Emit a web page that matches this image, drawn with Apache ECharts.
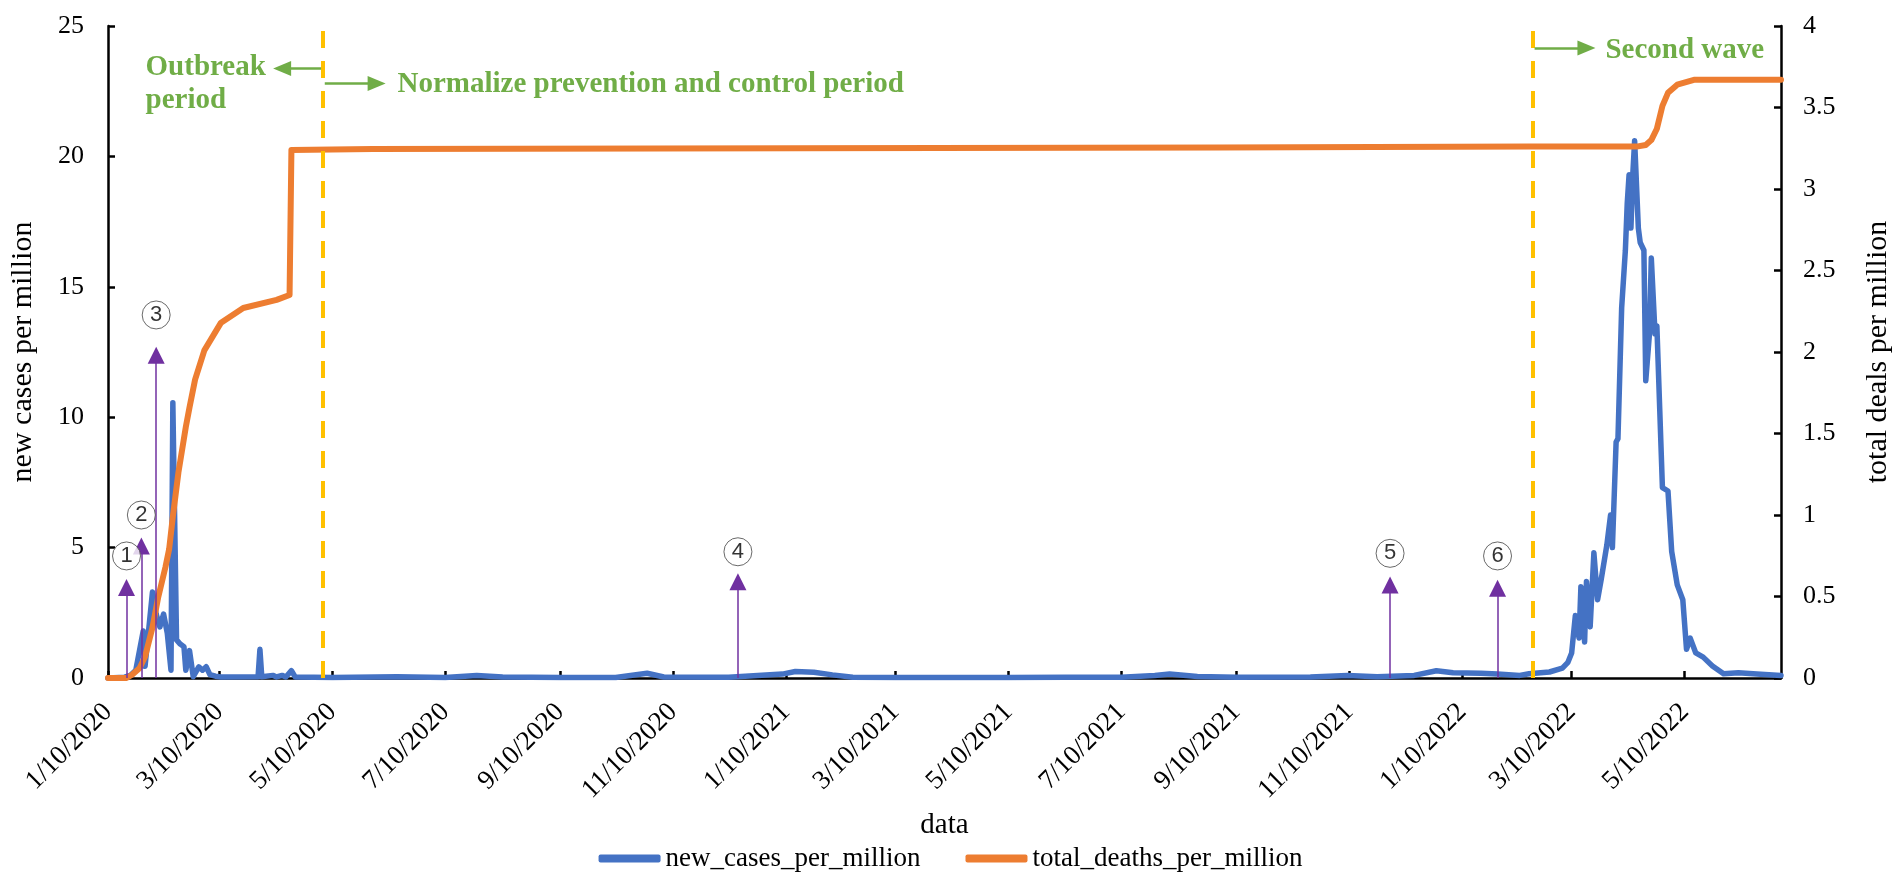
<!DOCTYPE html>
<html>
<head>
<meta charset="utf-8">
<script src="https://cdn.jsdelivr.net/npm/echarts@6/dist/echarts.min.js"></script>
<style>
  html, body { margin: 0; padding: 0; background: #fff; }
  #main { width: 1901px; height: 878px; }
</style>
</head>
<body>
<div id="main"></div>
<script>
// x axis range and the tick dates (every 2 months from 1/10/2020)
const xStart = '2020-01-10'
const xEnd = '2022-07-01'
const xTicks = ['2020-01-10', '2020-03-10', '2020-05-10', '2020-07-10', '2020-09-10', '2020-11-10',
  '2021-01-10', '2021-03-10', '2021-05-10', '2021-07-10', '2021-09-10', '2021-11-10',
  '2022-01-10', '2022-03-10', '2022-05-10']

// new cases per million (left axis)
const newCases = [
  ['2020-01-10', 0], ['2020-01-19', 0.03], ['2020-01-22', 0.1], ['2020-01-25', 0.3],
  ['2020-01-29', 1.8], ['2020-01-30', 0.45], ['2020-02-03', 3.3], ['2020-02-05', 2.45],
  ['2020-02-07', 1.96], ['2020-02-09', 2.45], ['2020-02-11', 1.72], ['2020-02-13', 0.3],
  ['2020-02-14', 10.55], ['2020-02-16', 1.46], ['2020-02-18', 1.3], ['2020-02-20', 1.2],
  ['2020-02-21', 0.3], ['2020-02-23', 1.05], ['2020-02-25', 0.05], ['2020-02-28', 0.43],
  ['2020-03-01', 0.3], ['2020-03-03', 0.43], ['2020-03-05', 0.13], ['2020-03-08', 0.07],
  ['2020-03-11', 0.04], ['2020-03-31', 0.05], ['2020-04-01', 1.1], ['2020-04-02', 0.05],
  ['2020-04-08', 0.1], ['2020-04-10', 0.04], ['2020-04-13', 0.1], ['2020-04-15', 0.04],
  ['2020-04-18', 0.28], ['2020-04-20', 0.04], ['2020-05-10', 0.02], ['2020-06-14', 0.05],
  ['2020-07-10', 0.02], ['2020-07-27', 0.1], ['2020-08-10', 0.04], ['2020-09-10', 0.02],
  ['2020-10-10', 0.02], ['2020-10-27', 0.18], ['2020-11-05', 0.04], ['2020-12-10', 0.03],
  ['2021-01-08', 0.15], ['2021-01-15', 0.25], ['2021-01-25', 0.22], ['2021-02-04', 0.12],
  ['2021-02-15', 0.03], ['2021-03-10', 0.02], ['2021-05-10', 0.02], ['2021-06-10', 0.03],
  ['2021-07-10', 0.03], ['2021-07-28', 0.1], ['2021-08-05', 0.15], ['2021-08-20', 0.06],
  ['2021-09-10', 0.03], ['2021-10-20', 0.04], ['2021-11-09', 0.1], ['2021-11-25', 0.05],
  ['2021-12-15', 0.1], ['2021-12-27', 0.28], ['2022-01-05', 0.2], ['2022-01-20', 0.18],
  ['2022-01-29', 0.15], ['2022-02-10', 0.1], ['2022-02-15', 0.16], ['2022-02-26', 0.23],
  ['2022-03-05', 0.38], ['2022-03-08', 0.6], ['2022-03-10', 0.96], ['2022-03-12', 2.4],
  ['2022-03-14', 1.53], ['2022-03-15', 3.5], ['2022-03-17', 1.38], ['2022-03-18', 3.7],
  ['2022-03-20', 1.96], ['2022-03-22', 4.8], ['2022-03-24', 3.0], ['2022-03-26', 3.8],
  ['2022-03-29', 5.1], ['2022-03-31', 6.25], ['2022-04-01', 5.0], ['2022-04-03', 9.05],
  ['2022-04-04', 9.18], ['2022-04-06', 14.2], ['2022-04-08', 16.4], ['2022-04-09', 18.2],
  ['2022-04-10', 19.3], ['2022-04-11', 17.25], ['2022-04-12', 19.3], ['2022-04-13', 20.6],
  ['2022-04-15', 17.25], ['2022-04-16', 16.7], ['2022-04-18', 16.4], ['2022-04-19', 11.4],
  ['2022-04-21', 13.2], ['2022-04-22', 16.1], ['2022-04-24', 13.2], ['2022-04-25', 13.5],
  ['2022-04-28', 7.3], ['2022-05-01', 7.17], ['2022-05-03', 4.85], ['2022-05-06', 3.57],
  ['2022-05-09', 3.0], ['2022-05-11', 1.1], ['2022-05-13', 1.53], ['2022-05-16', 0.96],
  ['2022-05-20', 0.8], ['2022-05-25', 0.46], ['2022-05-31', 0.16], ['2022-06-08', 0.2],
  ['2022-06-18', 0.15], ['2022-07-01', 0.1]
]

// total deaths per million (right axis)
const totalDeaths = [
  ['2020-01-10', 0], ['2020-01-20', 0], ['2020-01-23', 0.02], ['2020-01-27', 0.06],
  ['2020-01-30', 0.13], ['2020-02-03', 0.31], ['2020-02-06', 0.49], ['2020-02-10', 0.68],
  ['2020-02-12', 0.79], ['2020-02-14', 0.99], ['2020-02-17', 1.26], ['2020-02-21', 1.54],
  ['2020-02-23', 1.66], ['2020-02-26', 1.83], ['2020-03-02', 2.01], ['2020-03-11', 2.18],
  ['2020-03-23', 2.27], ['2020-04-10', 2.32], ['2020-04-17', 2.35], ['2020-04-18', 3.24],
  ['2020-06-01', 3.245], ['2021-01-15', 3.25], ['2021-09-01', 3.255], ['2022-02-15', 3.26],
  ['2022-04-14', 3.26], ['2022-04-19', 3.27], ['2022-04-22', 3.3], ['2022-04-25', 3.37],
  ['2022-04-28', 3.51], ['2022-05-01', 3.59], ['2022-05-06', 3.64], ['2022-05-15', 3.67],
  ['2022-07-01', 3.67]
]

// dashed phase boundaries and their green notes (y in left-axis units)
const phaseLines = ['2020-05-05', '2022-02-17']
const phaseArrows = [
  ['2020-05-04', '2020-04-13', 23.37],
  ['2020-05-06', '2020-06-03', 22.8],
  ['2022-02-18', '2022-03-18', 24.16]
]
const phaseTexts = [
  ['2020-01-30', 22.76, 'Outbreak\nperiod'],
  ['2020-06-14', 22.76, 'Normalize prevention and control period'],
  ['2022-03-28', 24.06, 'Second wave']
]

// numbered events: date, arrow head, label height
const eventDates = ['2020-01-20', '2020-01-28', '2020-02-05', '2020-12-15', '2021-12-02', '2022-01-29']
const eventHeads = [3.47, 5.06, 12.38, 3.69, 3.57, 3.44]
const eventLabelY = [4.68, 6.25, 13.92, 4.84, 4.78, 4.68]
const eventNames = ['1', '2', '3', '4', '5', '6']

const FONT = 'Liberation Serif'
const BLUE = '#4472C4'
const ORANGE = '#ED7D31'
const YELLOW = '#FFC000'
const GREEN = '#70AD47'
const PURPLE = '#7030A0'

// day number counted from the first date of the axis
const startParts = xStart.split('-').map(Number)
function day(s) {
  const p = s.split('-').map(Number)
  return Math.round((Date.UTC(p[0], p[1] - 1, p[2]) - Date.UTC(startParts[0], startParts[1] - 1, startParts[2])) / 86400000)
}
function dayLabel(v) {
  const d = new Date(Date.UTC(startParts[0], startParts[1] - 1, startParts[2] + Math.round(v)))
  return (d.getUTCMonth() + 1) + '/' + d.getUTCDate() + '/' + d.getUTCFullYear()
}

const tickDays = xTicks.map(day)

const markLines = []
phaseLines.forEach(d => {
  markLines.push([
    { coord: [day(d), 0], symbol: 'none', lineStyle: { color: YELLOW, width: 4, type: [17, 13] } },
    { coord: [day(d), 25], symbol: 'none' }
  ])
})
phaseArrows.forEach(a => {
  markLines.push([
    { coord: [day(a[0]), a[2]], symbol: 'none', lineStyle: { color: GREEN, width: 2.5, type: 'solid' } },
    { coord: [day(a[1]), a[2]], symbol: 'triangle', symbolSize: [15, 18] }
  ])
})
eventDates.forEach((d, i) => {
  markLines.push([
    { coord: [day(d), 0], symbol: 'none', lineStyle: { color: PURPLE, width: 1.5, type: 'solid' } },
    { coord: [day(d), eventHeads[i]], symbol: 'triangle', symbolSize: [17, 17] }
  ])
})

const option = {
  animation: false,
  backgroundColor: '#fff',
  grid: { left: 96, right: 105, top: 26, bottom: 200 },
  legend: {
    data: [
      { name: 'new_cases_per_million', icon: 'roundRect' },
      { name: 'total_deaths_per_million', icon: 'roundRect' }
    ],
    left: 'center',
    top: 840,
    itemWidth: 62,
    itemHeight: 8,
    itemGap: 45,
    textStyle: { fontFamily: FONT, fontSize: 27, color: '#000' }
  },
  xAxis: {
    type: 'value',
    min: 0,
    max: day(xEnd),
    name: 'data',
    nameLocation: 'middle',
    nameGap: 130,
    nameTextStyle: { fontFamily: FONT, fontSize: 29, color: '#000' },
    axisLine: { lineStyle: { color: '#000', width: 2.5 } },
    axisTick: { show: true, customValues: tickDays, inside: true, length: 7, lineStyle: { color: '#000', width: 2.5 } },
    axisLabel: {
      customValues: tickDays,
      rotate: 45,
      margin: 30,
      fontFamily: FONT,
      fontSize: 27,
      color: '#000',
      formatter: v => dayLabel(v)
    },
    splitLine: { show: false }
  },
  yAxis: [
    {
      type: 'value', min: 0, max: 25, interval: 5, position: 'left',
      name: 'new cases per million', nameLocation: 'middle', nameGap: 70, nameRotate: 90,
      nameTextStyle: { fontFamily: FONT, fontSize: 30, color: '#000' },
      axisLine: { show: true, lineStyle: { color: '#000', width: 2.5 } },
      axisTick: { show: true, inside: true, length: 7, lineStyle: { color: '#000', width: 2.5 } },
      axisLabel: { margin: 24, fontFamily: FONT, fontSize: 26, color: '#000' },
      splitLine: { show: false }
    },
    {
      type: 'value', min: 0, max: 4, interval: 0.5, position: 'right',
      name: 'total deals per million', nameLocation: 'middle', nameGap: 82, nameRotate: 90,
      nameTextStyle: { fontFamily: FONT, fontSize: 30, color: '#000' },
      axisLine: { show: true, lineStyle: { color: '#000', width: 2.5 } },
      axisTick: { show: true, inside: true, length: 7, lineStyle: { color: '#000', width: 2.5 } },
      axisLabel: { margin: 22, fontFamily: FONT, fontSize: 26, color: '#000' },
      splitLine: { show: false }
    }
  ],
  series: [
    {
      name: 'new_cases_per_million',
      type: 'line',
      yAxisIndex: 0,
      data: newCases.map(r => [day(r[0]), r[1]]),
      showSymbol: false,
      symbol: 'none',
      lineStyle: { color: BLUE, width: 5.5, join: 'round', cap: 'round' },
      itemStyle: { color: BLUE },
      z: 2
    },
    {
      name: 'total_deaths_per_million',
      type: 'line',
      yAxisIndex: 1,
      data: totalDeaths.map(r => [day(r[0]), r[1]]),
      showSymbol: false,
      symbol: 'none',
      lineStyle: { color: ORANGE, width: 6, join: 'round', cap: 'round' },
      itemStyle: { color: ORANGE },
      z: 3
    },
    {
      name: 'notes',
      type: 'line',
      yAxisIndex: 0,
      data: [],
      silent: true,
      z: 4,
      markLine: {
        silent: true,
        animation: false,
        label: { show: false },
        data: markLines
      },
      markPoint: {
        silent: true,
        animation: false,
        symbol: 'circle',
        symbolSize: 1,
        itemStyle: { color: 'rgba(0,0,0,0)' },
        label: {
          show: true, position: 'right', distance: 0,
          color: GREEN, fontFamily: FONT, fontWeight: 'bold', fontSize: 29, lineHeight: 33
        },
        data: phaseTexts.map(t => ({ coord: [day(t[0]), t[1]], value: 0, label: { formatter: t[2] } }))
      }
    },
    {
      name: 'events',
      type: 'scatter',
      yAxisIndex: 0,
      data: eventDates.map((d, i) => [day(d), eventLabelY[i], eventNames[i]]),
      symbol: 'circle',
      symbolSize: 28,
      silent: true,
      z: 5,
      itemStyle: { color: '#fff', borderColor: '#444', borderWidth: 1 },
      label: {
        show: true, position: 'inside',
        fontFamily: 'Liberation Sans', fontSize: 22, color: '#000',
        formatter: p => p.value[2]
      }
    }
  ]
}

const myChart = echarts.init(document.getElementById('main'))
myChart.setOption(option)
window.onresize = function () {
  myChart.resize()
}
</script>
</body>
</html>
